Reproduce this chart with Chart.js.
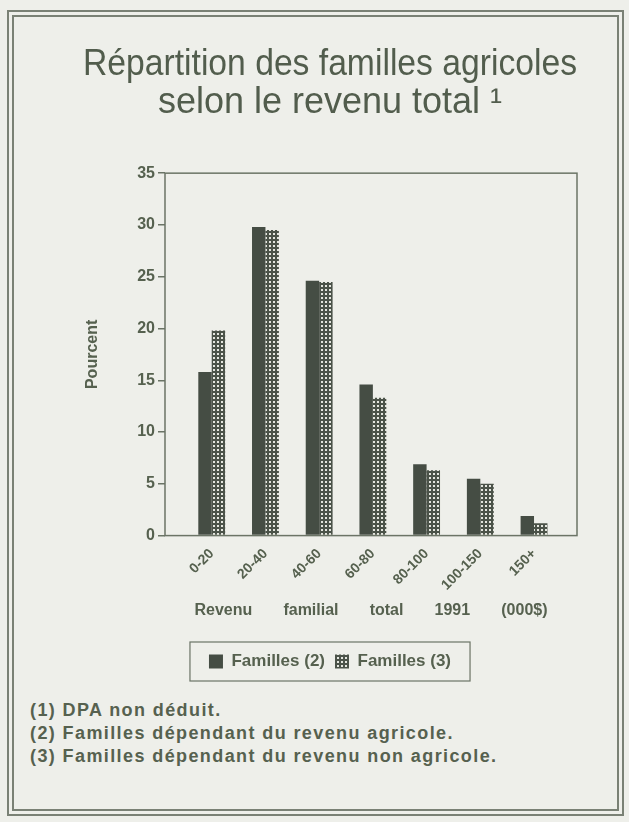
<!DOCTYPE html>
<html lang="fr">
<head>
<meta charset="utf-8">
<script src="https://cdn.jsdelivr.net/npm/chart.js@4.4.1/dist/chart.umd.min.js"></script>
<style>
  html, body { margin: 0; padding: 0; background: #eeefea; }
  body { width: 629px; height: 822px; position: relative; overflow: hidden; font-family: "Liberation Sans", Arial, sans-serif; }
  #frame {
    position: absolute; left: 7px; top: 10px; width: 617px; height: 806px;
    box-sizing: border-box; border: 7px double #7a8175;
  }
  #wrap { position: absolute; left: 0; top: 0; width: 629px; height: 692px; }
  #notes {
    position: absolute; left: 30px; top: 699px;
    color: #56614f; font-weight: bold; font-size: 18px; line-height: 23px; letter-spacing: 1.4px;
  }
</style>
</head>
<body>
<div id="frame"></div>
<div id="wrap"><canvas id="chart"></canvas></div>
<div id="notes">
  <div>(1) DPA non déduit.</div>
  <div>(2) Familles dépendant du revenu agricole.</div>
  <div>(3) Familles dépendant du revenu non agricole.</div>
</div>
<script>
// Revenu familial total 1991 (000$) categories
const categories = ["0-20", "20-40", "40-60", "60-80", "80-100", "100-150", "150+"];
const seriesLabels = ["Familles (2)", "Familles (3)"];
// percent of families
const famillesAgricoles = [15.8, 29.8, 24.6, 14.6, 6.9, 5.5, 1.9];
const famillesNonAgricoles = [19.8, 29.5, 24.5, 13.3, 6.3, 5.0, 1.2];
const yTicks = [0, 5, 10, 15, 20, 25, 30, 35];

const textColor = "#56614f";
const lineColor = "#6b7466";
const darkBar = "#454d44";

// dotted fill for the second series
function makeDots() {
  const c = document.createElement("canvas");
  c.width = 4;
  c.height = 4;
  const g = c.getContext("2d");
  g.fillStyle = "#4b5349";
  g.fillRect(0, 0, 4, 4);
  g.fillStyle = "#e4e6df";
  g.fillRect(1, 1, 2, 2);
  return g.createPattern(c, "repeat");
}
const dots = makeDots();

function toPoints(values) {
  return values.map((v, i) => ({ x: i, y: v }));
}

// box around the plot and around the legend
const framePlugin = {
  id: "frames",
  afterDraw(chart) {
    const ctx = chart.ctx;
    const a = chart.chartArea;
    ctx.save();
    ctx.strokeStyle = lineColor;
    ctx.lineWidth = 1.5;
    ctx.strokeRect(a.left, a.top, a.right - a.left, a.bottom - a.top);

    const boxes = chart.legend.legendHitBoxes;
    if (boxes && boxes.length) {
      const first = boxes[0];
      const last = boxes[boxes.length - 1];
      const x0 = first.left - 19;
      const x1 = last.left + last.width + 19;
      const y0 = first.top - 11;
      const y1 = first.top + first.height + 11;
      ctx.lineWidth = 1.2;
      ctx.strokeRect(x0, y0, x1 - x0, y1 - y0);
    }
    ctx.restore();
  }
};

new Chart(document.getElementById("chart"), {
  type: "bar",
  data: {
    datasets: [
      {
        label: seriesLabels[0],
        data: toPoints(famillesAgricoles),
        backgroundColor: darkBar,
        borderWidth: 0
      },
      {
        label: seriesLabels[1],
        data: toPoints(famillesNonAgricoles),
        backgroundColor: dots,
        borderWidth: 0
      }
    ]
  },
  options: {
    responsive: true,
    maintainAspectRatio: false,
    animation: false,
    categoryPercentage: 0.5,
    barPercentage: 1.0,
    layout: { padding: { left: 83, right: 52, top: 0, bottom: 12 } },
    scales: {
      x: {
        type: "linear",
        min: -0.87,
        max: 6.8,
        offset: false,
        grid: { display: false },
        border: { display: false },
        ticks: {
          stepSize: 1,
          autoSkip: false,
          includeBounds: false,
          minRotation: 45,
          maxRotation: 45,
          padding: 2,
          color: textColor,
          font: { family: "Liberation Sans", size: 14, weight: "bold" },
          callback: (v) => categories[v] ?? ""
        },
        title: {
          display: true,
          text: "Revenu       familial       total       1991       (000$)",
          color: textColor,
          font: { family: "Liberation Sans", size: 16, weight: "bold" },
          padding: { top: 5, bottom: 23 }
        }
      },
      y: {
        min: 0,
        max: 35,
        afterBuildTicks: (scale) => { scale.ticks = yTicks.map((v) => ({ value: v })); },
        grid: { display: true, drawOnChartArea: false, drawTicks: true, tickLength: 7, color: lineColor, lineWidth: 1.5 },
        border: { display: false },
        ticks: {
          padding: 3,
          color: textColor,
          font: { family: "Liberation Sans", size: 16, weight: "bold" }
        },
        title: {
          display: true,
          text: "Pourcent",
          color: textColor,
          font: { family: "Liberation Sans", size: 16, weight: "bold" },
          padding: { top: 0, bottom: 32 }
        }
      }
    },
    plugins: {
      title: {
        display: true,
        text: ["Répartition des familles agricoles", "selon le revenu total ¹"],
        color: "#525d4d",
        font: { family: "Liberation Sans", size: 36, weight: "normal", lineHeight: 1.03 },
        padding: { top: 47, bottom: 52 }
      },
      legend: {
        display: true,
        position: "bottom",
        labels: {
          color: textColor,
          boxWidth: 14,
          boxHeight: 14,
          padding: 10,
          font: { family: "Liberation Sans", size: 17, weight: "bold" }
        }
      },
      tooltip: { enabled: false }
    }
  },
  plugins: [framePlugin]
});
</script>
</body>
</html>
